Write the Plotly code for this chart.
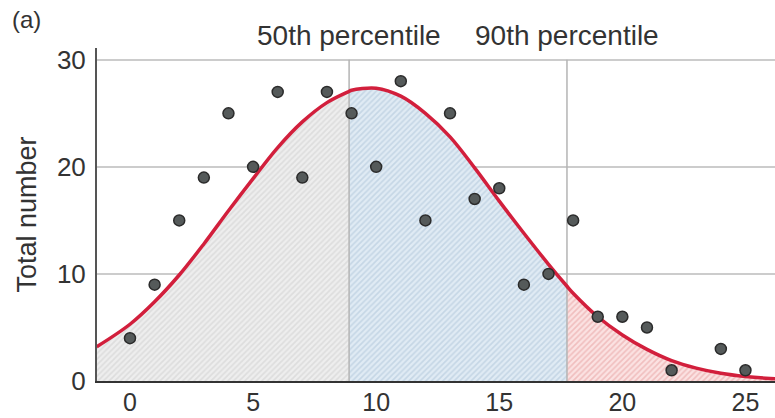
import plotly.graph_objects as go

# ---- data ----
obs_x = [0, 1, 2, 3, 4, 5, 6, 7, 8, 9, 10, 11, 12, 13, 14, 15, 16, 17, 18, 19, 20, 21, 22, 24, 25]
obs_y = [4, 9, 15, 19, 25, 20, 27, 19, 27, 25, 20, 28, 15, 25, 17, 18, 9, 10, 15, 6, 6, 5, 1, 3, 1]

curve_x = [-1.35, 0, 1, 2, 3, 4, 5, 6, 7, 8, 8.9, 9, 10, 11, 12, 13, 14, 15, 16, 17,
           17.75, 18, 19, 20, 21, 22, 23, 24, 25, 26, 26.2]
curve_y = [3.2, 5.3, 7.4, 9.9, 12.8, 15.9, 18.9, 21.8, 24.2, 26.0, 27.05, 27.15, 27.35, 26.6,
           25.0, 22.8, 19.9, 16.8, 13.8, 10.9, 8.85, 8.2, 6.0, 4.3, 2.95, 1.9, 1.2, 0.72, 0.42,
           0.24, 0.22]

p50 = 8.9
p90 = 17.75
pct_labels = ["50th percentile", "90th percentile"]
y_ticks = [0, 10, 20, 30]
x_ticks = [0, 5, 10, 15, 20, 25]

FONT = "Liberation Sans, Arial, sans-serif"
TXT = "#333333"

fig = go.Figure()


def region(lo, hi):
    xs = [x for x in curve_x if lo <= x <= hi]
    ys = [y for x, y in zip(curve_x, curve_y) if lo <= x <= hi]
    return xs, ys


regions = [
    (curve_x[0], p50, "#eeeeee", "#cbcbcb"),
    (p50, p90, "#e0ebf4", "#a9c1d6"),
    (p90, curve_x[-1], "#fbe2e2", "#e69a9a"),
]
for lo, hi, bg, fg in regions:
    xs, ys = region(lo, hi)
    fig.add_trace(go.Scatter(
        x=xs, y=ys, mode="lines", line=dict(width=0, shape="spline"),
        fill="tozeroy", fillcolor=bg,
        fillpattern=dict(shape="/", bgcolor=bg, fgcolor=fg, size=4, solidity=0.4),
        hoverinfo="skip", showlegend=False,
    ))

# percentile lines
for p in (p50, p90):
    fig.add_trace(go.Scatter(x=[p, p], y=[0, 30], mode="lines",
                             line=dict(color="#b4b4b4", width=1.5),
                             hoverinfo="skip", showlegend=False))

# fitted curve
fig.add_trace(go.Scatter(x=curve_x, y=curve_y, mode="lines",
                         line=dict(color="#d21f3c", width=3.5, shape="spline"),
                         showlegend=False))

# observations
fig.add_trace(go.Scatter(x=obs_x, y=obs_y, mode="markers",
                         marker=dict(size=11, color="#555a5a",
                                     line=dict(color="#2b2b2b", width=1.5)),
                         showlegend=False))

annotations = [
    dict(x=p50, y=1, xref="x", yref="paper", yanchor="bottom", yshift=-5,
         text=pct_labels[0], showarrow=False, font=dict(size=28, color=TXT, family=FONT)),
    dict(x=p90, y=1, xref="x", yref="paper", yanchor="bottom", yshift=-5,
         text=pct_labels[1], showarrow=False, font=dict(size=28, color=TXT, family=FONT)),
    dict(x=0, y=1, xref="paper", yref="paper", xanchor="center", yanchor="middle",
         xshift=-71, yshift=29, text="(a)", showarrow=False,
         font=dict(size=24, color=TXT, family=FONT)),
    dict(x=0, y=0.5, xref="paper", yref="paper", xanchor="center", yanchor="middle",
         xshift=-71, text="Total number", textangle=-90, showarrow=False,
         font=dict(size=27, color=TXT, family=FONT)),
]

fig.update_layout(
    width=775, height=418,
    margin=dict(l=97, r=0, t=48, b=37, autoexpand=False),
    paper_bgcolor="white", plot_bgcolor="white",
    font=dict(family=FONT, size=26, color=TXT),
    annotations=annotations,
    xaxis=dict(range=[-1.34, 26.2], tickvals=x_ticks, showgrid=False, zeroline=False,
               showline=True, linecolor="#333333", linewidth=2, ticks="",
               tickfont=dict(size=25, color=TXT), ticklabelstandoff=-2,
               automargin=False, fixedrange=True),
    yaxis=dict(range=[0, 31.1], tickvals=y_ticks, showgrid=True, gridcolor="#cccccc",
               gridwidth=1.5, zeroline=False, showline=True, linecolor="#555555",
               linewidth=2, ticks="", tickfont=dict(size=26, color=TXT),
               ticklabelstandoff=4, automargin=False, fixedrange=True),
)

fig.write_html("out.html", config={"displayModeBar": False},
               post_script="document.body.style.margin='0';document.body.style.overflow='hidden';")
